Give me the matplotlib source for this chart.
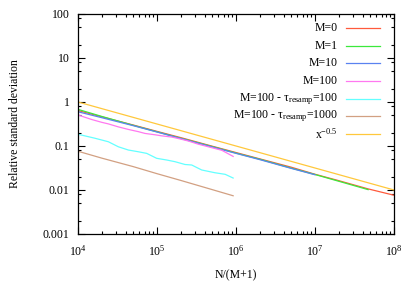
import matplotlib
matplotlib.use('Agg')
import matplotlib.pyplot as plt
from matplotlib.ticker import FixedLocator, FixedFormatter, LogLocator, NullFormatter

plt.rcParams['font.family'] = 'Liberation Serif'
plt.rcParams['mathtext.fontset'] = 'custom'
plt.rcParams['mathtext.rm'] = 'Liberation Serif'
plt.rcParams['mathtext.it'] = 'Liberation Serif:italic'
plt.rcParams['font.size'] = 8.5

# data
x_main = [1e4, 2e4, 5e4, 1e5, 2e5, 5e5, 1e6, 2e6, 5e6, 1e7, 2e7, 4.7e7, 1e8]
y_m0 = [0.64, 0.46, 0.30, 0.215, 0.155, 0.099, 0.071, 0.051, 0.033, 0.0228, 0.0163, 0.0106, 0.0076]
y_m1 = [0.68, 0.47, 0.295, 0.21, 0.15, 0.097, 0.069, 0.050, 0.0315, 0.0225, 0.0158, 0.0102]
y_m10 = [0.60, 0.44, 0.29, 0.208, 0.148, 0.095, 0.068, 0.049, 0.031, 0.0222]

x_m100 = [1e4, 1.49e4, 2.0e4, 2.42e4, 3.24e4, 4.34e4, 5.8e4, 7.05e4, 9.4e4,
          1.15e5, 1.53e5, 1.86e5, 2.49e5, 3.33e5, 4.46e5, 6.6e5, 9.2e5]
y_m100 = [0.507, 0.40, 0.345, 0.318, 0.272, 0.238, 0.212, 0.193, 0.180,
          0.170, 0.160, 0.148, 0.130, 0.110, 0.096, 0.080, 0.058]

x_tau100 = [1e4, 1.64e4, 2.42e4, 3.24e4, 4.34e4, 5.8e4, 7.4e4, 9.9e4,
            1.33e5, 1.69e5, 2.26e5, 2.75e5, 3.68e5, 5.4e5, 7.3e5, 9.2e5]
y_tau100 = [0.185, 0.150, 0.125, 0.096, 0.081, 0.074, 0.068, 0.0525,
            0.048, 0.044, 0.038, 0.037, 0.0285, 0.0247, 0.0227, 0.0187]

x_tau1000 = [1e4, 2e4, 5e4, 1e5, 2e5, 5e5, 9.2e5]
y_tau1000 = [0.076, 0.053, 0.034, 0.0235, 0.0165, 0.0102, 0.0074]

x_ref = [1e4, 1e8]
y_ref = [1.0, 0.01]

labels = ['M=0', 'M=1', 'M=10', 'M=100',
          r'M=100 - τ$_\mathrm{resamp}$=100',
          r'M=100 - τ$_\mathrm{resamp}$=1000',
          r'x$^{-0.5}$']
colors = ['#ff5a3c', '#3ce83c', '#5a82f0', '#ff78f0', '#64ffff', '#d2a082', '#ffc83c']

ytick_vals = [0.001, 0.01, 0.1, 1, 10, 100]
ytick_labels = ['0.001', '0.01', '0.1', '1', '10', '100']

fig = plt.figure(figsize=(4.15, 2.92), dpi=100)
ax = fig.add_axes([78 / 415, 1 - 234 / 292, 316 / 415, 220 / 292])

series = [(x_main, y_m0), (x_main[:len(y_m1)], y_m1), (x_main[:len(y_m10)], y_m10),
          (x_m100, y_m100), (x_tau100, y_tau100), (x_tau1000, y_tau1000), (x_ref, y_ref)]
for (xs, ys), c in zip(series, colors):
    ax.plot(xs, ys, color=c, lw=0.9)

ax.set_xscale('log')
ax.set_yscale('log')
ax.set_xlim(1e4, 1e8)
ax.set_ylim(0.001, 100)

ax.yaxis.set_major_locator(FixedLocator(ytick_vals))
ax.yaxis.set_major_formatter(FixedFormatter(ytick_labels))
ax.yaxis.set_minor_locator(LogLocator(base=10, subs=(2, 5, 8)))
ax.yaxis.set_minor_formatter(NullFormatter())
ax.xaxis.set_minor_locator(LogLocator(base=10, subs=range(2, 10)))
ax.xaxis.set_minor_formatter(NullFormatter())

ax.tick_params(which='both', direction='in', top=True, right=True, width=0.8)
ax.tick_params(which='major', length=5)
ax.tick_params(which='minor', length=2.5)
ax.tick_params(axis='y', pad=6)
ax.tick_params(axis='x', pad=7)
for s in ax.spines.values():
    s.set_linewidth(0.9)

ax.set_xlabel('N/(M+1)', labelpad=8)
ax.set_ylabel('Relative standard deviation', labelpad=16)

# key, right aligned text with sample line
for i, (lab, c) in enumerate(zip(labels, colors)):
    yp = 1 - (28 + i * 17.7 - 14) / 220
    ax.text((338 - 78) / 316, yp, lab, transform=ax.transAxes,
            ha='right', va='center')
    ax.plot([(346 - 78) / 316, (380 - 78) / 316], [yp, yp], color=c, lw=0.9,
            transform=ax.transAxes)

fig.savefig('out.png', dpi=100)
